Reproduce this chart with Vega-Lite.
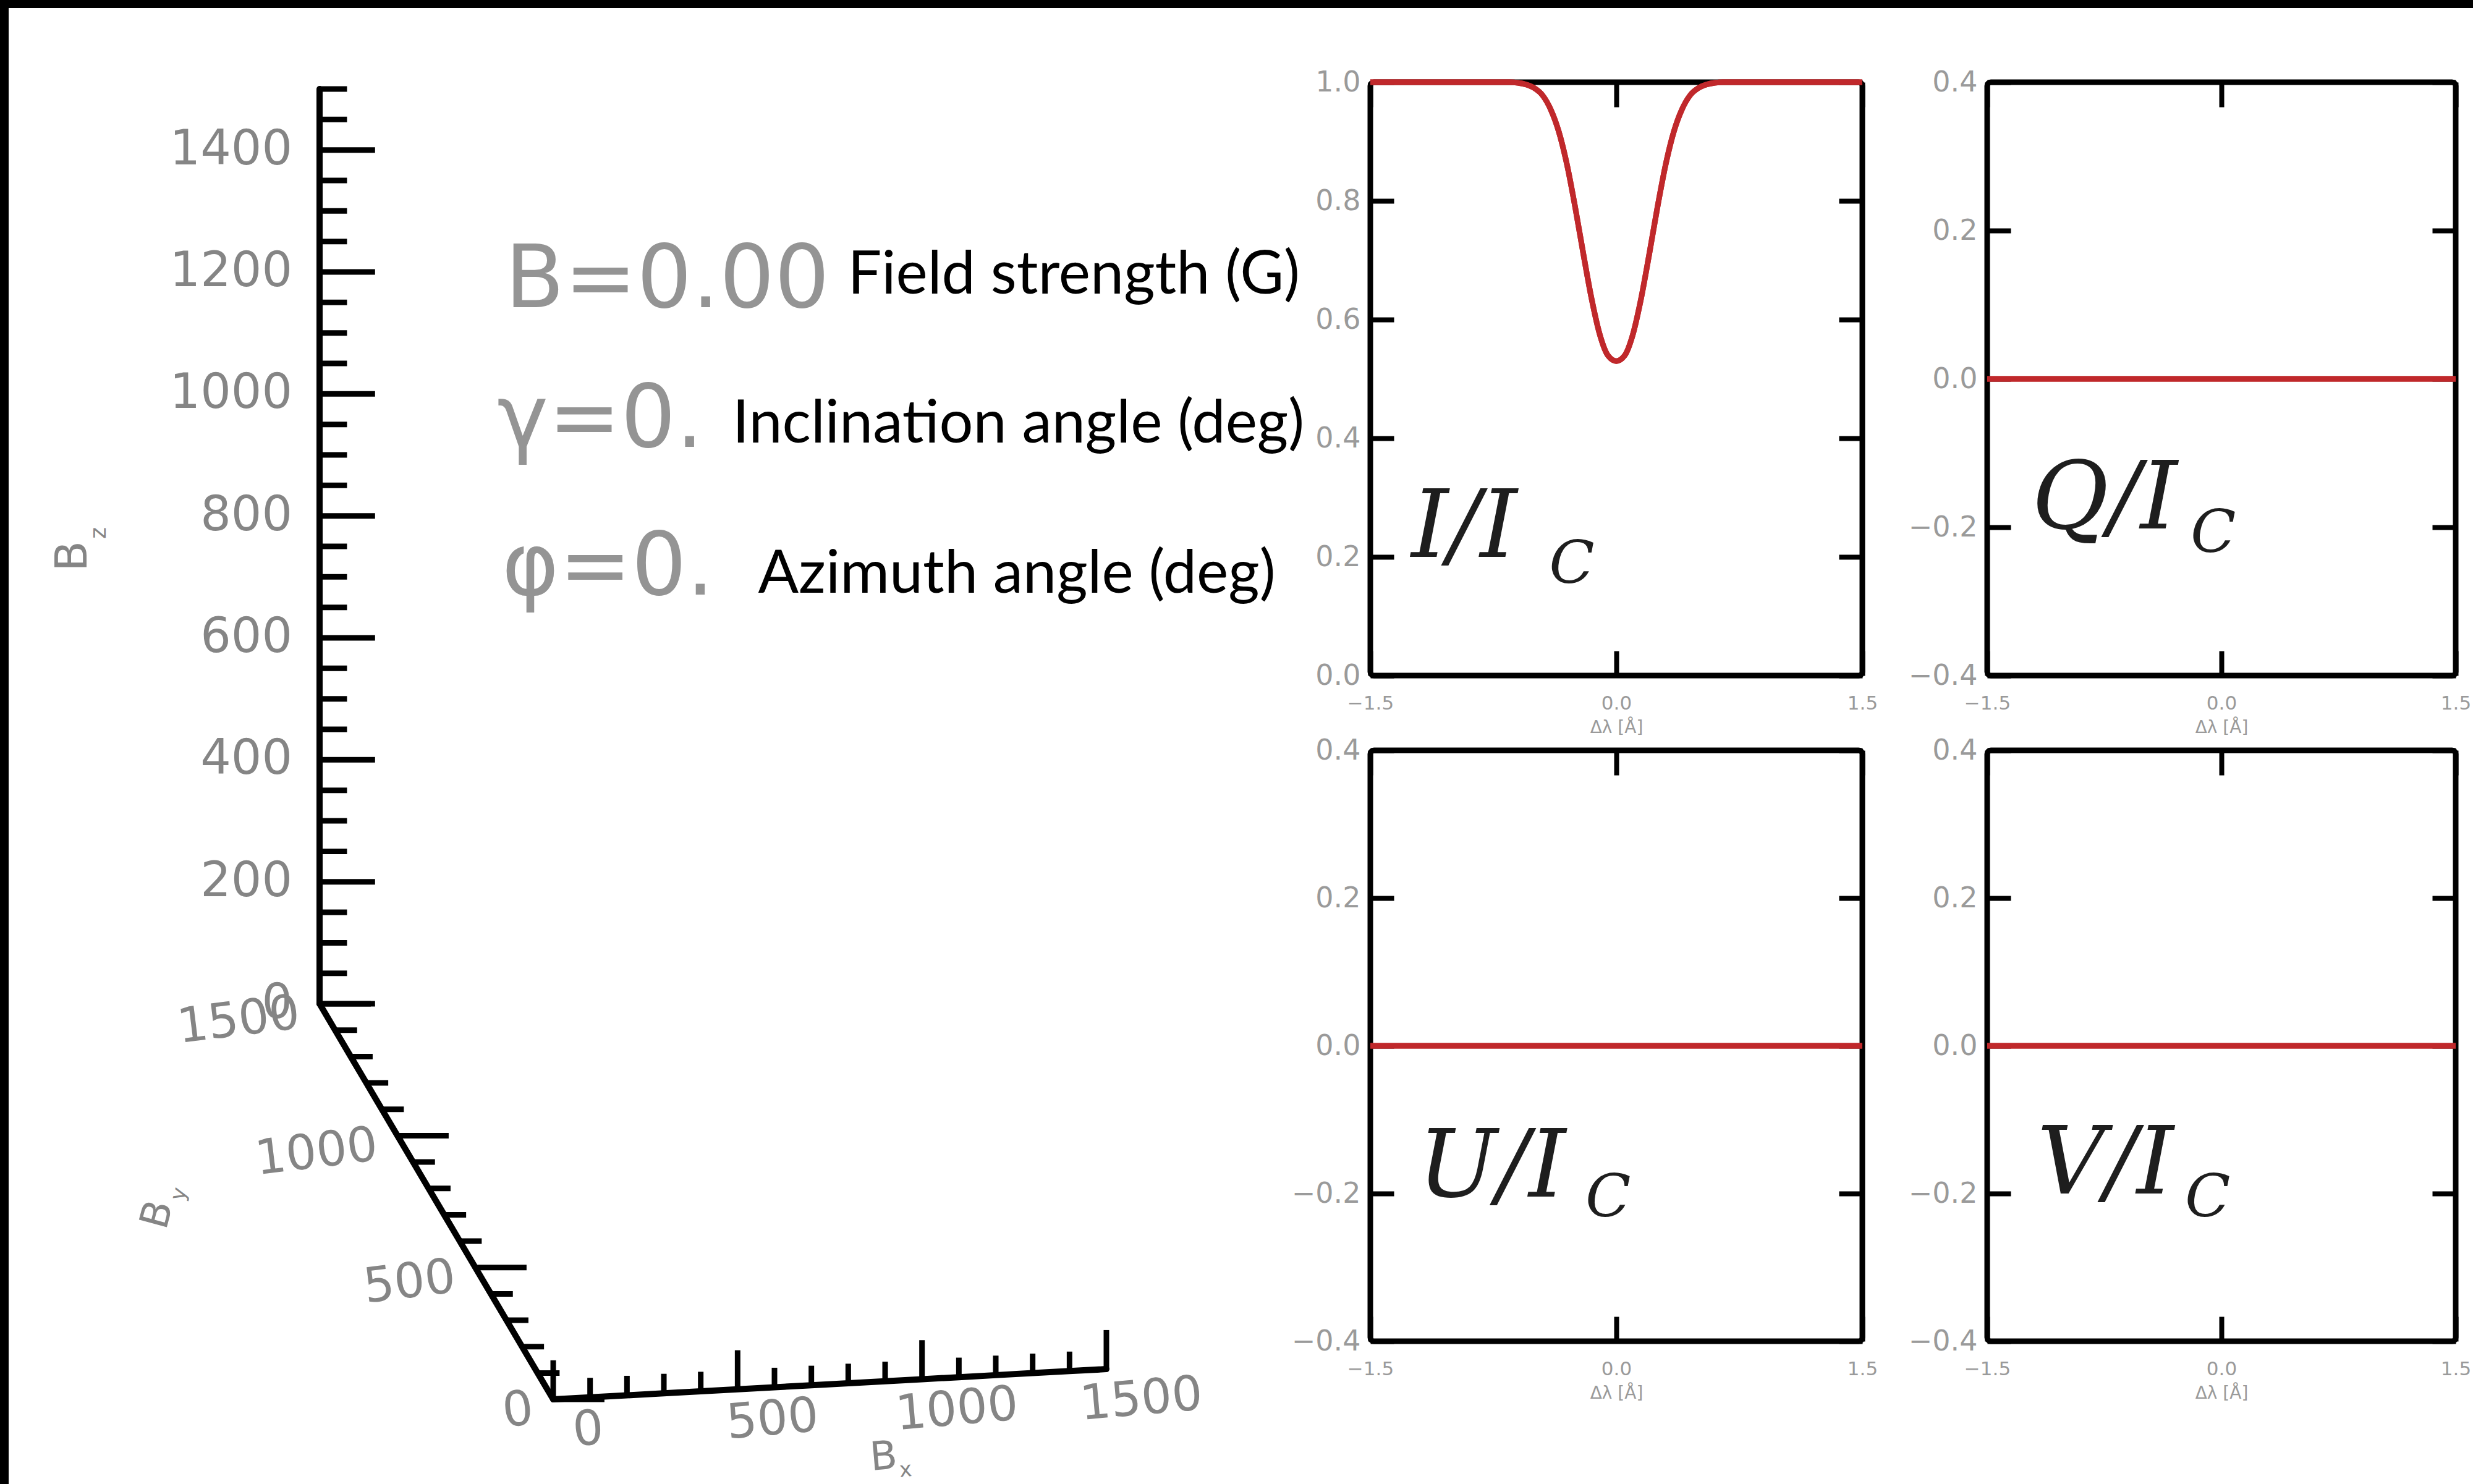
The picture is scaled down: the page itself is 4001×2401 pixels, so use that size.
{
  "$schema": "https://vega.github.io/schema/vega-lite/v6.json",
  "padding": 0,
  "background": "white",
  "config": {"view": {"stroke": null}, "font": "DejaVu Sans"},
  "datasets": {
    "ticks3d": [
      {"ax":"z","v":0},{"ax":"z","v":50},{"ax":"z","v":100},{"ax":"z","v":150},{"ax":"z","v":200},{"ax":"z","v":250},{"ax":"z","v":300},{"ax":"z","v":350},{"ax":"z","v":400},{"ax":"z","v":450},{"ax":"z","v":500},{"ax":"z","v":550},{"ax":"z","v":600},{"ax":"z","v":650},{"ax":"z","v":700},{"ax":"z","v":750},{"ax":"z","v":800},{"ax":"z","v":850},{"ax":"z","v":900},{"ax":"z","v":950},{"ax":"z","v":1000},{"ax":"z","v":1050},{"ax":"z","v":1100},{"ax":"z","v":1150},{"ax":"z","v":1200},{"ax":"z","v":1250},{"ax":"z","v":1300},{"ax":"z","v":1350},{"ax":"z","v":1400},{"ax":"z","v":1450},{"ax":"z","v":1500},
      {"ax":"y","v":0},{"ax":"y","v":100},{"ax":"y","v":200},{"ax":"y","v":300},{"ax":"y","v":400},{"ax":"y","v":500},{"ax":"y","v":600},{"ax":"y","v":700},{"ax":"y","v":800},{"ax":"y","v":900},{"ax":"y","v":1000},{"ax":"y","v":1100},{"ax":"y","v":1200},{"ax":"y","v":1300},{"ax":"y","v":1400},{"ax":"y","v":1500},
      {"ax":"x","v":0},{"ax":"x","v":100},{"ax":"x","v":200},{"ax":"x","v":300},{"ax":"x","v":400},{"ax":"x","v":500},{"ax":"x","v":600},{"ax":"x","v":700},{"ax":"x","v":800},{"ax":"x","v":900},{"ax":"x","v":1000},{"ax":"x","v":1100},{"ax":"x","v":1200},{"ax":"x","v":1300},{"ax":"x","v":1400},{"ax":"x","v":1500}
    ],
    "stokesI": [
      {"dl":-1.5,"v":1.0},{"dl":-1.2,"v":1.0},{"dl":-0.9,"v":1.0},{"dl":-0.7,"v":1.0},{"dl":-0.65,"v":1.0},
      {"dl":-0.6,"v":0.999},{"dl":-0.55,"v":0.996},{"dl":-0.5,"v":0.99},{"dl":-0.45,"v":0.978},{"dl":-0.4,"v":0.954},
      {"dl":-0.35,"v":0.916},{"dl":-0.3,"v":0.86},{"dl":-0.25,"v":0.788},{"dl":-0.2,"v":0.709},{"dl":-0.15,"v":0.634},
      {"dl":-0.1,"v":0.574},{"dl":-0.05,"v":0.539},{"dl":0,"v":0.53},
      {"dl":0.05,"v":0.539},{"dl":0.1,"v":0.574},{"dl":0.15,"v":0.634},{"dl":0.2,"v":0.709},{"dl":0.25,"v":0.788},
      {"dl":0.3,"v":0.86},{"dl":0.35,"v":0.916},{"dl":0.4,"v":0.954},{"dl":0.45,"v":0.978},{"dl":0.5,"v":0.99},
      {"dl":0.55,"v":0.996},{"dl":0.6,"v":0.999},{"dl":0.65,"v":1.0},{"dl":0.7,"v":1.0},{"dl":0.9,"v":1.0},{"dl":1.2,"v":1.0},{"dl":1.5,"v":1.0}
    ],
    "stokesQ": [{"dl":-1.5,"v":0},{"dl":-1.0,"v":0},{"dl":-0.5,"v":0},{"dl":0,"v":0},{"dl":0.5,"v":0},{"dl":1.0,"v":0},{"dl":1.5,"v":0}],
    "stokesU": [{"dl":-1.5,"v":0},{"dl":-1.0,"v":0},{"dl":-0.5,"v":0},{"dl":0,"v":0},{"dl":0.5,"v":0},{"dl":1.0,"v":0},{"dl":1.5,"v":0}],
    "stokesV": [{"dl":-1.5,"v":0},{"dl":-1.0,"v":0},{"dl":-0.5,"v":0},{"dl":0,"v":0},{"dl":0.5,"v":0},{"dl":1.0,"v":0},{"dl":1.5,"v":0}]
  },
  "columns": 5,
  "spacing": 0,
  "bounds": "flush",
  "align": "each",
  "concat": [
    {"width": 14, "height": 13, "view": {"fill": "black", "stroke": null}, "data": {"values": [{}]}, "mark": "text", "encoding": {"text": {"value": ""}}},
    {"width": 2203, "height": 13, "view": {"fill": "black", "stroke": null}, "data": {"values": [{}]}, "mark": "text", "encoding": {"text": {"value": ""}}},
    {"width": 796, "height": 13, "view": {"fill": "black", "stroke": null}, "data": {"values": [{}]}, "mark": "text", "encoding": {"text": {"value": ""}}},
    {"width": 202, "height": 13, "view": {"fill": "black", "stroke": null}, "data": {"values": [{}]}, "mark": "text", "encoding": {"text": {"value": ""}}},
    {"width": 786, "height": 13, "view": {"fill": "black", "stroke": null}, "data": {"values": [{}]}, "mark": "text", "encoding": {"text": {"value": ""}}},

    {"width": 14, "height": 120, "view": {"fill": "black", "stroke": null}, "data": {"values": [{}]}, "mark": "text", "encoding": {"text": {"value": ""}}},
    {"width": 1, "height": 1, "view": {"stroke": null}, "data": {"values": [{}]}, "mark": "text", "encoding": {"text": {"value": ""}}},
    {"width": 1, "height": 1, "view": {"stroke": null}, "data": {"values": [{}]}, "mark": "text", "encoding": {"text": {"value": ""}}},
    {"width": 1, "height": 1, "view": {"stroke": null}, "data": {"values": [{}]}, "mark": "text", "encoding": {"text": {"value": ""}}},
    {"width": 1, "height": 1, "view": {"stroke": null}, "data": {"values": [{}]}, "mark": "text", "encoding": {"text": {"value": ""}}},

    {"width": 14, "height": 960, "view": {"fill": "black", "stroke": null}, "data": {"values": [{}]}, "mark": "text", "encoding": {"text": {"value": ""}}},
    {
      "width": 2203, "height": 960,
      "view": {"fill": null, "stroke": null},
      "layer": [
        {
          "data": {"name": "ticks3d"},
          "transform": [
            {"calculate": "datum.ax == 'z' ? 0 : (datum.ax == 'y' ? 383.1 - 0.2554 * datum.v : 383.1 + 0.6047 * datum.v)", "as": "X"},
            {"calculate": "datum.ax == 'z' ? datum.v : (datum.ax == 'y' ? -648.6 + 0.4324 * datum.v : -648.6 + 0.0331 * datum.v)", "as": "Y"},
            {"calculate": "datum.ax == 'z' ? (datum.v % 200 == 0) : (datum.v % 500 == 0)", "as": "major"},
            {"calculate": "datum.ax == 'x' ? datum.X : datum.X + (datum.ax == 'z' ? (datum.major ? 91 : 45) : (datum.major ? 84 : 36))", "as": "X2"},
            {"calculate": "datum.ax == 'x' ? datum.Y + (datum.major ? 64 : 32) : datum.Y", "as": "Y2"}
          ],
          "layer": [
            {
              "mark": {"type": "line", "color": "black", "strokeWidth": 10, "strokeCap": "round", "strokeJoin": "round"},
              "encoding": {
                "x": {"field": "X", "type": "quantitative", "scale": {"domain": [-509.8, 1722.9], "nice": false, "zero": false}, "axis": null},
                "y": {"field": "Y", "type": "quantitative", "scale": {"domain": [538.2, 1511.1], "nice": false, "zero": false}, "axis": null},
                "detail": {"field": "ax"},
                "order": {"field": "v", "type": "quantitative"}
              }
            },
            {
              "mark": {"type": "rule", "color": "black", "strokeWidth": 9},
              "encoding": {
                "x": {"field": "X", "type": "quantitative"},
                "y": {"field": "Y", "type": "quantitative"},
                "x2": {"field": "X2"},
                "y2": {"field": "Y2"}
              }
            },
            {
              "transform": [{"filter": "datum.major && datum.ax == 'z'"}],
              "mark": {"type": "text", "align": "right", "baseline": "middle", "dx": -44, "fontSize": 78, "color": "#858585", "font": "DejaVu Sans"},
              "encoding": {
                "x": {"field": "X", "type": "quantitative"},
                "y": {"field": "Y", "type": "quantitative"},
                "text": {"field": "v", "type": "quantitative", "format": "d"}
              }
            },
            {
              "transform": [{"filter": "datum.major && datum.ax == 'y'"}],
              "mark": {"type": "text", "align": "right", "baseline": "middle", "dx": -34, "dy": 12, "angle": 353, "fontSize": 78, "color": "#858585", "font": "DejaVu Sans"},
              "encoding": {
                "x": {"field": "X", "type": "quantitative"},
                "y": {"field": "Y", "type": "quantitative"},
                "text": {"field": "v", "type": "quantitative", "format": "d"}
              }
            },
            {
              "transform": [{"filter": "datum.major && datum.ax == 'x'"}],
              "mark": {"type": "text", "align": "center", "baseline": "middle", "dx": 52, "dy": 55, "angle": 355, "fontSize": 78, "color": "#858585", "font": "DejaVu Sans"},
              "encoding": {
                "x": {"field": "X", "type": "quantitative"},
                "y": {"field": "Y", "type": "quantitative"},
                "text": {"field": "v", "type": "quantitative", "format": "d"}
              }
            }
          ]
        },
        {
          "data": {"values": [{}]},
          "mark": {"type": "text", "align": "center", "baseline": "middle", "angle": 270, "fontSize": 72, "color": "#858585", "font": "DejaVu Sans"},
          "encoding": {"x": {"datum": -404, "type": "quantitative"}, "y": {"datum": 734, "type": "quantitative"}, "text": {"value": "B"}}
        },
        {
          "data": {"values": [{}]},
          "mark": {"type": "text", "align": "center", "baseline": "middle", "angle": 270, "fontSize": 36, "color": "#858585", "font": "DejaVu Sans"},
          "encoding": {"x": {"datum": -362, "type": "quantitative"}, "y": {"datum": 772, "type": "quantitative"}, "text": {"value": "z"}}
        },
        {
          "data": {"values": [{}]},
          "mark": {"type": "text", "align": "center", "baseline": "middle", "angle": 285, "fontSize": 64, "color": "#858585", "font": "DejaVu Sans"},
          "encoding": {"x": {"datum": -265, "type": "quantitative"}, "y": {"datum": -346, "type": "quantitative"}, "text": {"value": "B"}}
        },
        {
          "data": {"values": [{}]},
          "mark": {"type": "text", "align": "center", "baseline": "middle", "angle": 285, "fontSize": 34, "color": "#858585", "font": "DejaVu Sans"},
          "encoding": {"x": {"datum": -230, "type": "quantitative"}, "y": {"datum": -312, "type": "quantitative"}, "text": {"value": "y"}}
        },
        {
          "data": {"values": [{}]},
          "mark": {"type": "text", "align": "center", "baseline": "middle", "angle": 355, "fontSize": 64, "color": "#858585", "font": "DejaVu Sans"},
          "encoding": {"x": {"datum": 925, "type": "quantitative"}, "y": {"datum": -744, "type": "quantitative"}, "text": {"value": "B"}}
        },
        {
          "data": {"values": [{}]},
          "mark": {"type": "text", "align": "center", "baseline": "middle", "angle": 355, "fontSize": 34, "color": "#858585", "font": "DejaVu Sans"},
          "encoding": {"x": {"datum": 961, "type": "quantitative"}, "y": {"datum": -765, "type": "quantitative"}, "text": {"value": "x"}}
        },
        {
          "data": {"values": [{}]},
          "mark": {"type": "text", "align": "left", "baseline": "alphabetic", "fontSize": 140, "color": "#949494", "font": "DejaVu Sans"},
          "encoding": {"x": {"datum": 304, "type": "quantitative"}, "y": {"datum": 1142, "type": "quantitative"}, "text": {"value": "B=0.00"}}
        },
        {
          "data": {"values": [{}]},
          "mark": {"type": "text", "align": "left", "baseline": "alphabetic", "fontSize": 140, "color": "#949494", "font": "DejaVu Sans"},
          "encoding": {"x": {"datum": 291, "type": "quantitative"}, "y": {"datum": 913, "type": "quantitative"}, "text": {"value": "γ=0."}}
        },
        {
          "data": {"values": [{}]},
          "mark": {"type": "text", "align": "left", "baseline": "alphabetic", "fontSize": 140, "color": "#949494", "font": "DejaVu Sans"},
          "encoding": {"x": {"datum": 299, "type": "quantitative"}, "y": {"datum": 671, "type": "quantitative"}, "text": {"value": "φ=0."}}
        },
        {
          "data": {"values": [{}]},
          "mark": {"type": "text", "align": "left", "baseline": "alphabetic", "fontSize": 97, "color": "black", "font": "Lato"},
          "encoding": {"x": {"datum": 866, "type": "quantitative"}, "y": {"datum": 1165, "type": "quantitative"}, "text": {"value": "Field strength (G)"}}
        },
        {
          "data": {"values": [{}]},
          "mark": {"type": "text", "align": "left", "baseline": "alphabetic", "fontSize": 97, "color": "black", "font": "Lato"},
          "encoding": {"x": {"datum": 677, "type": "quantitative"}, "y": {"datum": 920, "type": "quantitative"}, "text": {"value": "Inclination angle (deg)"}}
        },
        {
          "data": {"values": [{}]},
          "mark": {"type": "text", "align": "left", "baseline": "alphabetic", "fontSize": 97, "color": "black", "font": "Lato"},
          "encoding": {"x": {"datum": 719, "type": "quantitative"}, "y": {"datum": 674, "type": "quantitative"}, "text": {"value": "Azimuth angle (deg)"}}
        }
      ]
    },
    {
      "width": 796, "height": 960,
      "view": {"stroke": "black", "strokeWidth": 9, "cornerRadius": 6, "fill": "white"},
      "resolve": {"axis": {"x": "independent", "y": "independent"}},
      "layer": [
        {
          "data": {"name": "stokesI"},
          "mark": {"type": "line", "color": "#c0282b", "strokeWidth": 9, "interpolate": "monotone"},
          "encoding": {
            "x": {"field": "dl", "type": "quantitative", "scale": {"domain": [-1.5, 1.5], "nice": false, "zero": false},
                  "axis": {"orient": "bottom", "values": [-1.5, 0, 1.5], "format": ".1f", "tickSize": -40, "tickWidth": 8, "tickColor": "black", "domain": false, "grid": false, "labelColor": "#9a9a9a", "labelFontSize": 31, "labelPadding": 70, "labelFlush": false, "labelOverlap": false, "title": "Δλ [Å]", "titleColor": "#9a9a9a", "titleFontSize": 28, "titleFontWeight": "normal", "titlePadding": 10}},
            "y": {"field": "v", "type": "quantitative", "scale": {"domain": [0, 1], "nice": false, "zero": false},
                  "axis": {"orient": "left", "values": [0, 0.2, 0.4, 0.6, 0.8, 1], "format": ".1f", "tickSize": -38, "tickWidth": 8, "tickColor": "black", "domain": false, "grid": false, "labelColor": "#9a9a9a", "labelFontSize": 46, "labelPadding": 54, "labelOverlap": false, "title": null}}
          }
        },
        {
          "data": {"name": "stokesI"},
          "mark": {"type": "line", "color": "#c0282b", "strokeWidth": 9, "interpolate": "monotone"},
          "encoding": {
            "x": {"field": "dl", "type": "quantitative", "axis": {"orient": "top", "values": [-1.5, 0, 1.5], "tickSize": -40, "tickWidth": 8, "tickColor": "black", "labels": false, "domain": false, "grid": false, "title": null}},
            "y": {"field": "v", "type": "quantitative", "axis": {"orient": "right", "values": [0, 0.2, 0.4, 0.6, 0.8, 1], "tickSize": -38, "tickWidth": 8, "tickColor": "black", "labels": false, "domain": false, "grid": false, "title": null}}
          }
        },
        {
          "data": {"values": [{}]},
          "mark": {"type": "text", "align": "left", "baseline": "alphabetic", "fontSize": 152, "font": "DejaVu Serif", "fontStyle": "italic", "color": "#1e1e1e"},
          "encoding": {"x": {"datum": -1.25, "type": "quantitative", "axis": null}, "y": {"datum": 0.2, "type": "quantitative", "axis": null}, "text": {"value": "I/I"}}
        },
        {
          "data": {"values": [{}]},
          "mark": {"type": "text", "align": "left", "baseline": "alphabetic", "fontSize": 96, "font": "DejaVu Serif", "fontStyle": "italic", "color": "#1e1e1e"},
          "encoding": {"x": {"datum": -0.41, "type": "quantitative", "axis": null}, "y": {"datum": 0.156, "type": "quantitative", "axis": null}, "text": {"value": "C"}}
        }
      ]
    },
    {"width": 1, "height": 1, "view": {"stroke": null}, "data": {"values": [{}]}, "mark": "text", "encoding": {"text": {"value": ""}}},
    {
      "width": 758, "height": 960,
      "view": {"stroke": "black", "strokeWidth": 9, "cornerRadius": 6, "fill": "white"},
      "resolve": {"axis": {"x": "independent", "y": "independent"}},
      "layer": [
        {
          "data": {"name": "stokesQ"},
          "mark": {"type": "line", "color": "#c0282b", "strokeWidth": 9},
          "encoding": {
            "x": {"field": "dl", "type": "quantitative", "scale": {"domain": [-1.5, 1.5], "nice": false, "zero": false},
                  "axis": {"orient": "bottom", "values": [-1.5, 0, 1.5], "format": ".1f", "tickSize": -40, "tickWidth": 8, "tickColor": "black", "domain": false, "grid": false, "labelColor": "#9a9a9a", "labelFontSize": 31, "labelPadding": 70, "labelFlush": false, "labelOverlap": false, "title": "Δλ [Å]", "titleColor": "#9a9a9a", "titleFontSize": 28, "titleFontWeight": "normal", "titlePadding": 10}},
            "y": {"field": "v", "type": "quantitative", "scale": {"domain": [-0.4, 0.4], "nice": false, "zero": false},
                  "axis": {"orient": "left", "values": [-0.4, -0.2, 0, 0.2, 0.4], "format": ".1f", "tickSize": -38, "tickWidth": 8, "tickColor": "black", "domain": false, "grid": false, "labelColor": "#9a9a9a", "labelFontSize": 46, "labelPadding": 54, "labelOverlap": false, "title": null}}
          }
        },
        {
          "data": {"name": "stokesQ"},
          "mark": {"type": "line", "color": "#c0282b", "strokeWidth": 9},
          "encoding": {
            "x": {"field": "dl", "type": "quantitative", "axis": {"orient": "top", "values": [-1.5, 0, 1.5], "tickSize": -40, "tickWidth": 8, "tickColor": "black", "labels": false, "domain": false, "grid": false, "title": null}},
            "y": {"field": "v", "type": "quantitative", "axis": {"orient": "right", "values": [-0.4, -0.2, 0, 0.2, 0.4], "tickSize": -38, "tickWidth": 8, "tickColor": "black", "labels": false, "domain": false, "grid": false, "title": null}}
          }
        },
        {
          "data": {"values": [{}]},
          "mark": {"type": "text", "align": "left", "baseline": "alphabetic", "fontSize": 152, "font": "DejaVu Serif", "fontStyle": "italic", "color": "#1e1e1e"},
          "encoding": {"x": {"datum": -1.215, "type": "quantitative", "axis": null}, "y": {"datum": -0.202, "type": "quantitative", "axis": null}, "text": {"value": "Q/I"}}
        },
        {
          "data": {"values": [{}]},
          "mark": {"type": "text", "align": "left", "baseline": "alphabetic", "fontSize": 96, "font": "DejaVu Serif", "fontStyle": "italic", "color": "#1e1e1e"},
          "encoding": {"x": {"datum": -0.198, "type": "quantitative", "axis": null}, "y": {"datum": -0.233, "type": "quantitative", "axis": null}, "text": {"value": "C"}}
        }
      ]
    },

    {"width": 14, "height": 121, "view": {"fill": "black", "stroke": null}, "data": {"values": [{}]}, "mark": "text", "encoding": {"text": {"value": ""}}},
    {"width": 1, "height": 1, "view": {"stroke": null}, "data": {"values": [{}]}, "mark": "text", "encoding": {"text": {"value": ""}}},
    {"width": 1, "height": 1, "view": {"stroke": null}, "data": {"values": [{}]}, "mark": "text", "encoding": {"text": {"value": ""}}},
    {"width": 1, "height": 1, "view": {"stroke": null}, "data": {"values": [{}]}, "mark": "text", "encoding": {"text": {"value": ""}}},
    {"width": 1, "height": 1, "view": {"stroke": null}, "data": {"values": [{}]}, "mark": "text", "encoding": {"text": {"value": ""}}},

    {"width": 14, "height": 1187, "view": {"fill": "black", "stroke": null}, "data": {"values": [{}]}, "mark": "text", "encoding": {"text": {"value": ""}}},
    {"width": 1, "height": 1, "view": {"stroke": null}, "data": {"values": [{}]}, "mark": "text", "encoding": {"text": {"value": ""}}},
    {
      "width": 796, "height": 956,
      "view": {"stroke": "black", "strokeWidth": 9, "cornerRadius": 6, "fill": "white"},
      "resolve": {"axis": {"x": "independent", "y": "independent"}},
      "layer": [
        {
          "data": {"name": "stokesU"},
          "mark": {"type": "line", "color": "#c0282b", "strokeWidth": 9},
          "encoding": {
            "x": {"field": "dl", "type": "quantitative", "scale": {"domain": [-1.5, 1.5], "nice": false, "zero": false},
                  "axis": {"orient": "bottom", "values": [-1.5, 0, 1.5], "format": ".1f", "tickSize": -40, "tickWidth": 8, "tickColor": "black", "domain": false, "grid": false, "labelColor": "#9a9a9a", "labelFontSize": 31, "labelPadding": 70, "labelFlush": false, "labelOverlap": false, "title": "Δλ [Å]", "titleColor": "#9a9a9a", "titleFontSize": 28, "titleFontWeight": "normal", "titlePadding": 10}},
            "y": {"field": "v", "type": "quantitative", "scale": {"domain": [-0.4, 0.4], "nice": false, "zero": false},
                  "axis": {"orient": "left", "values": [-0.4, -0.2, 0, 0.2, 0.4], "format": ".1f", "tickSize": -38, "tickWidth": 8, "tickColor": "black", "domain": false, "grid": false, "labelColor": "#9a9a9a", "labelFontSize": 46, "labelPadding": 54, "labelOverlap": false, "title": null}}
          }
        },
        {
          "data": {"name": "stokesU"},
          "mark": {"type": "line", "color": "#c0282b", "strokeWidth": 9},
          "encoding": {
            "x": {"field": "dl", "type": "quantitative", "axis": {"orient": "top", "values": [-1.5, 0, 1.5], "tickSize": -40, "tickWidth": 8, "tickColor": "black", "labels": false, "domain": false, "grid": false, "title": null}},
            "y": {"field": "v", "type": "quantitative", "axis": {"orient": "right", "values": [-0.4, -0.2, 0, 0.2, 0.4], "tickSize": -38, "tickWidth": 8, "tickColor": "black", "labels": false, "domain": false, "grid": false, "title": null}}
          }
        },
        {
          "data": {"values": [{}]},
          "mark": {"type": "text", "align": "left", "baseline": "alphabetic", "fontSize": 152, "font": "DejaVu Serif", "fontStyle": "italic", "color": "#1e1e1e"},
          "encoding": {"x": {"datum": -1.21, "type": "quantitative", "axis": null}, "y": {"datum": -0.204, "type": "quantitative", "axis": null}, "text": {"value": "U/I"}}
        },
        {
          "data": {"values": [{}]},
          "mark": {"type": "text", "align": "left", "baseline": "alphabetic", "fontSize": 96, "font": "DejaVu Serif", "fontStyle": "italic", "color": "#1e1e1e"},
          "encoding": {"x": {"datum": -0.188, "type": "quantitative", "axis": null}, "y": {"datum": -0.231, "type": "quantitative", "axis": null}, "text": {"value": "C"}}
        }
      ]
    },
    {"width": 1, "height": 1, "view": {"stroke": null}, "data": {"values": [{}]}, "mark": "text", "encoding": {"text": {"value": ""}}},
    {
      "width": 758, "height": 956,
      "view": {"stroke": "black", "strokeWidth": 9, "cornerRadius": 6, "fill": "white"},
      "resolve": {"axis": {"x": "independent", "y": "independent"}},
      "layer": [
        {
          "data": {"name": "stokesV"},
          "mark": {"type": "line", "color": "#c0282b", "strokeWidth": 9},
          "encoding": {
            "x": {"field": "dl", "type": "quantitative", "scale": {"domain": [-1.5, 1.5], "nice": false, "zero": false},
                  "axis": {"orient": "bottom", "values": [-1.5, 0, 1.5], "format": ".1f", "tickSize": -40, "tickWidth": 8, "tickColor": "black", "domain": false, "grid": false, "labelColor": "#9a9a9a", "labelFontSize": 31, "labelPadding": 70, "labelFlush": false, "labelOverlap": false, "title": "Δλ [Å]", "titleColor": "#9a9a9a", "titleFontSize": 28, "titleFontWeight": "normal", "titlePadding": 10}},
            "y": {"field": "v", "type": "quantitative", "scale": {"domain": [-0.4, 0.4], "nice": false, "zero": false},
                  "axis": {"orient": "left", "values": [-0.4, -0.2, 0, 0.2, 0.4], "format": ".1f", "tickSize": -38, "tickWidth": 8, "tickColor": "black", "domain": false, "grid": false, "labelColor": "#9a9a9a", "labelFontSize": 46, "labelPadding": 54, "labelOverlap": false, "title": null}}
          }
        },
        {
          "data": {"name": "stokesV"},
          "mark": {"type": "line", "color": "#c0282b", "strokeWidth": 9},
          "encoding": {
            "x": {"field": "dl", "type": "quantitative", "axis": {"orient": "top", "values": [-1.5, 0, 1.5], "tickSize": -40, "tickWidth": 8, "tickColor": "black", "labels": false, "domain": false, "grid": false, "title": null}},
            "y": {"field": "v", "type": "quantitative", "axis": {"orient": "right", "values": [-0.4, -0.2, 0, 0.2, 0.4], "tickSize": -38, "tickWidth": 8, "tickColor": "black", "labels": false, "domain": false, "grid": false, "title": null}}
          }
        },
        {
          "data": {"values": [{}]},
          "mark": {"type": "text", "align": "left", "baseline": "alphabetic", "fontSize": 152, "font": "DejaVu Serif", "fontStyle": "italic", "color": "#1e1e1e"},
          "encoding": {"x": {"datum": -1.18, "type": "quantitative", "axis": null}, "y": {"datum": -0.2, "type": "quantitative", "axis": null}, "text": {"value": "V/I"}}
        },
        {
          "data": {"values": [{}]},
          "mark": {"type": "text", "align": "left", "baseline": "alphabetic", "fontSize": 96, "font": "DejaVu Serif", "fontStyle": "italic", "color": "#1e1e1e"},
          "encoding": {"x": {"datum": -0.234, "type": "quantitative", "axis": null}, "y": {"datum": -0.231, "type": "quantitative", "axis": null}, "text": {"value": "C"}}
        }
      ]
    }
  ]
}
